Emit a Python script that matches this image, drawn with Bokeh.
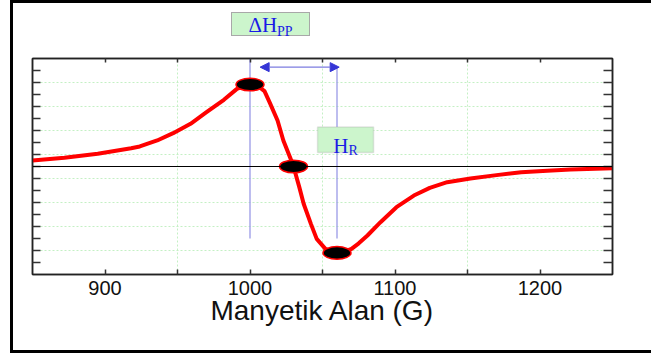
from bokeh.plotting import figure
from bokeh.models import (Range1d, LinearAxis, FixedTicker, Label, BoxAnnotation,
                          Arrow, NormalHead, Span, Div)
from bokeh.layouts import column, row
from bokeh.embed import file_html
from bokeh.resources import INLINE

# ---- data ----
field = [850, 872, 895, 918, 924, 936, 947, 959, 970, 982, 991, 996, 1001, 1006,
         1010, 1014, 1019, 1023, 1028, 1030, 1034, 1037, 1042, 1046, 1052, 1056,
         1061, 1065, 1070, 1075, 1081, 1090, 1101, 1113, 1124, 1136, 1152, 1170,
         1187, 1205, 1221, 1250]
signal = [0.5, 0.72, 1.06, 1.52, 1.67, 2.17, 2.78, 3.56, 4.53, 5.56, 6.47, 6.72,
          6.82, 6.65, 6.28, 5.22, 3.83, 2.17, 0.64, 0.0, -1.72, -3.1, -4.78, -6.03,
          -6.86, -7.1, -7.2, -7.1, -6.86, -6.4, -5.75, -4.64, -3.39, -2.42, -1.78,
          -1.31, -1.0, -0.72, -0.47, -0.35, -0.25, -0.14]
point_field = [1000, 1030, 1060]
point_signal = [6.83, 0.0, -7.2]
x_label_ticks = [900, 1000, 1100, 1200]
x_minor_ticks = [950, 1050, 1150]
y_ticks = [-8, -7, -6, -5, -4, -3, -2, -1, 0, 1, 2, 3, 4, 5, 6, 7, 8]
y_grid_ticks = [-7, -5, -3, -1, 1, 3, 5, 7]
guide_field = [1000, 1060]
guide_bottom = [-6.0, -6.0]
guide_top = [9.0, 8.28]

blue = "#1a1ae6"
box_fill = "#ccf5cc"
box_line = "#a8a8a8"

p = figure(width=642, height=309, x_range=Range1d(850, 1250), y_range=Range1d(-9, 9),
           output_backend="svg", toolbar_location=None,
           min_border_left=19, min_border_right=43, min_border_top=17, min_border_bottom=76)
p.background_fill_color = "white"
p.border_fill_color = "white"
p.outline_line_color = "#222222"
p.outline_line_width = 1.5

# grid
p.xgrid.ticker = FixedTicker(ticks=x_minor_ticks)
p.ygrid.ticker = FixedTicker(ticks=y_grid_ticks)
for g in (p.xgrid, p.ygrid):
    g.grid_line_color = "#c4f0c4"
    g.grid_line_dash = "2 2"
    g.grid_line_width = 1

# bottom axis
xa = p.xaxis[0]
xa.ticker = FixedTicker(ticks=x_label_ticks, minor_ticks=x_minor_ticks)
xa.major_tick_in = 5
xa.major_tick_out = 0
xa.minor_tick_in = 5
xa.minor_tick_out = 0
xa.major_tick_line_color = "#333333"
xa.minor_tick_line_color = "#333333"
xa.major_tick_line_width = 1.5
xa.minor_tick_line_width = 1.5
xa.axis_line_color = "#222222"
xa.axis_line_width = 1.5
xa.major_label_text_font = "Liberation Sans"
xa.major_label_text_font_size = "20px"
xa.major_label_text_color = "#111111"
xa.major_label_standoff = 6
xa.axis_label = "Manyetik Alan (G)"
xa.axis_label_text_font = "Liberation Sans"
xa.axis_label_text_font_size = "28px"
xa.axis_label_text_font_style = "normal"
xa.axis_label_text_color = "#111111"
xa.axis_label_standoff = -3

# left axis
ya = p.yaxis[0]
ya.ticker = FixedTicker(ticks=y_ticks)
ya.major_tick_in = 8
ya.major_tick_out = 0
ya.minor_tick_in = 0
ya.minor_tick_out = 0
ya.major_tick_line_color = "#333333"
ya.major_tick_line_width = 1.5
ya.axis_line_color = "#222222"
ya.axis_line_width = 1.5
ya.major_label_standoff = 0
ya.major_label_overrides = {t: "" for t in y_ticks}

# top and right axes (ticks only)
top = LinearAxis(ticker=FixedTicker(ticks=x_label_ticks, minor_ticks=x_minor_ticks),
                 major_tick_in=4, major_tick_out=0, minor_tick_in=4, minor_tick_out=0,
                 major_tick_line_color="#333333", minor_tick_line_color="#333333",
                 major_tick_line_width=1.5, minor_tick_line_width=1.5,
                 axis_line_color="#222222", axis_line_width=1.5, major_label_standoff=0,
                 major_label_overrides={t: "" for t in x_label_ticks})
p.add_layout(top, "above")
right = LinearAxis(ticker=FixedTicker(ticks=y_ticks),
                   major_tick_in=9, major_tick_out=0, minor_tick_in=0, minor_tick_out=0,
                   major_tick_line_color="#333333", major_tick_line_width=1.5,
                   axis_line_color="#222222", axis_line_width=1.5, major_label_standoff=0,
                   major_label_overrides={t: "" for t in y_ticks})
p.add_layout(right, "right")

# zero line
p.add_layout(Span(location=0, dimension="width", line_color="black", line_width=1))

# guide lines
p.segment(x0=guide_field, y0=guide_bottom, x1=guide_field, y1=guide_top,
          line_color="#9a9ae6", line_width=1.3)

# arrow (peak-to-peak width)
p.add_layout(Arrow(start=NormalHead(size=9, fill_color="#3535d6", line_color="#3535d6"),
                   end=NormalHead(size=9, fill_color="#3535d6", line_color="#3535d6"),
                   x_start=1007, y_start=8.28, x_end=1061.5, y_end=8.28,
                   line_color="#7c7ce0", line_width=1.3))

# curve
p.line(field, signal, line_color="#ff0000", line_width=4, line_join="round")
p.ellipse(x=point_field, y=point_signal, width=19.3, height=1.05,
          fill_color="black", line_color="#ff0000", line_width=1.5)

# H_R label box (inside the frame)
p.add_layout(BoxAnnotation(left=1046.6, right=1085.2, top=3.29, bottom=1.17,
                           fill_color=box_fill, fill_alpha=1, line_color=box_line,
                           line_width=1.5, level="overlay"))
for x, y, t, s in [(1057.4, 1.67, "H", "21px"), (1068.0, 1.33, "R", "14px")]:
    p.add_layout(Label(x=x, y=y, text=t, text_font="Liberation Serif", text_font_size=s,
                       text_color=blue, text_baseline="alphabetic", text_align="left",
                       level="overlay"))

# Delta H_PP label box above the plot
html = (
    '<div style="position:relative; left:218px; top:9px; width:79px; height:24px; '
    f'background:{box_fill}; border:1px solid {box_line}; '
    "font-family:'Liberation Serif'; font-size:21px; color:" + blue + "; "
    'text-align:center; line-height:24px; white-space:nowrap;">'
    '\u0394H<span style="font-size:14px; position:relative; top:4px;">PP</span></div>'
)
top_div = Div(text=html, width=642, height=38,
              styles={"margin": "0", "padding": "0", "overflow": "hidden"})

# black frame of the whole picture (left, top, bottom bars)
bar = {"background-color": "black", "margin": "0", "padding": "0", "overflow": "hidden"}
top_bar = Div(text="", width=645, height=3, styles=bar)
left_bar = Div(text="", width=3, height=347, styles=bar)
bottom_bar = Div(text="", width=645, height=3, styles=bar)

hide = {"overflow": "hidden"}
inner = column(top_div, p, spacing=0, width=642, height=347, styles=hide)
mid = row(left_bar, inner, spacing=0, width=645, height=347, styles=hide)
layout = column(top_bar, mid, bottom_bar, spacing=0, width=645, height=353,
                margin=(0, 0, -8, 10), styles=hide)

open("out.html", "w").write(file_html(layout, INLINE))
